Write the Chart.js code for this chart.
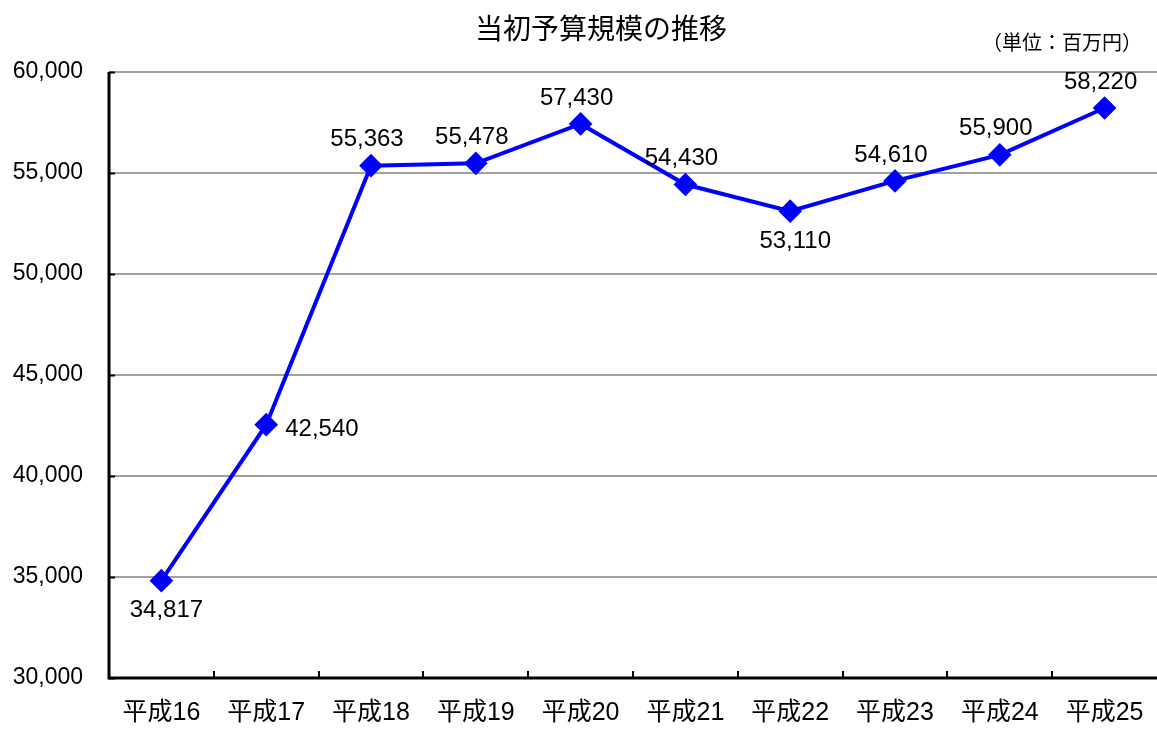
<!DOCTYPE html>
<html>
<head>
<meta charset="utf-8">
<script src="https://cdn.jsdelivr.net/npm/chart.js@4"></script>
<style>
  html, body { margin: 0; padding: 0; background: #fff; overflow: hidden; }
  canvas { display: block; }
</style>
</head>
<body>
<canvas id="chart" width="1157" height="731"></canvas>
<script>
var labels = ['平成16', '平成17', '平成18', '平成19', '平成20', '平成21', '平成22', '平成23', '平成24', '平成25'];
var budget = [34817, 42540, 55363, 55478, 57430, 54430, 53110, 54610, 55900, 58220];
var labelSide = ['below', 'right', 'above', 'above', 'above', 'above', 'below', 'above', 'above', 'above'];

var FONT = '"Liberation Sans", Arial, "Noto Sans CJK JP", sans-serif';
var JP = '"Noto Sans CJK JP", "Liberation Sans", sans-serif';

var extras = {
  id: 'extras',
  afterDraw: function(chart) {
    var c = chart.ctx, a = chart.chartArea;
    var x = chart.scales.x, y = chart.scales.y;
    c.save();
    // inner tick marks
    c.strokeStyle = '#000';
    c.lineWidth = 2;
    y.ticks.forEach(function(t) {
      var py = Math.round(y.getPixelForValue(t.value)) + 0.5;
      c.beginPath(); c.moveTo(a.left, py); c.lineTo(a.left + 6, py); c.stroke();
    });
    for (var i = 1; i < labels.length; i++) {
      var px = Math.round((x.getPixelForValue(i - 1) + x.getPixelForValue(i)) / 2);
      c.beginPath(); c.moveTo(px, a.bottom); c.lineTo(px, a.bottom - 7); c.stroke();
    }
    // axis lines
    c.lineWidth = 3;
    c.beginPath();
    c.moveTo(a.left, a.top);
    c.lineTo(a.left, a.bottom);
    c.lineTo(a.right, a.bottom);
    c.stroke();

    // data labels
    c.fillStyle = '#000';
    c.font = '24px ' + FONT;
    c.textBaseline = 'middle';
    var meta = chart.getDatasetMeta(0);
    meta.data.forEach(function(pt, i) {
      var txt = budget[i].toLocaleString('en-US');
      var side = labelSide[i];
      if (side === 'above') {
        c.textAlign = 'center';
        c.fillText(txt, pt.x - 4, pt.y - 26);
      } else if (side === 'below') {
        c.textAlign = 'center';
        c.fillText(txt, pt.x + 5, pt.y + 30);
      } else {
        c.textAlign = 'left';
        c.fillText(txt, pt.x + 19, pt.y + 5);
      }
    });

    // title and unit
    c.textAlign = 'center';
    c.font = '28px ' + JP;
    c.fillText('当初予算規模の推移', 601, 28);
    c.textAlign = 'right';
    c.font = '20px ' + JP;
    c.fillText('（単位：百万円）', 1142, 42);
    c.restore();
  }
};

var ctx = document.getElementById('chart');
var chart = new Chart(ctx, {
  type: 'line',
  data: {
    labels: labels,
    datasets: [{
      data: budget,
      borderColor: '#0000ff',
      backgroundColor: '#0000ff',
      borderWidth: 4,
      pointStyle: 'rectRot',
      pointRadius: 9,
      pointHoverRadius: 9,
      tension: 0,
      clip: false
    }]
  },
  options: {
    responsive: false,
    animation: false,
    layout: { autoPadding: false, padding: { top: 72, right: 0, left: 0, bottom: 0 } },
    plugins: {
      legend: { display: false },
      tooltip: { enabled: false },
      title: { display: false }
    },
    scales: {
      x: {
        offset: true,
        grid: { display: false, drawTicks: false },
        border: { display: false },
        ticks: {
          color: '#000',
          font: { size: 25, family: FONT },
          padding: 20,
          maxRotation: 0,
          autoSkip: false
        },
        afterFit: function(s) { s.height = 53; s.paddingLeft = 0; s.paddingRight = 0; }
      },
      y: {
        min: 30000,
        max: 60000,
        grid: { color: '#a0a0a0', lineWidth: 2, drawTicks: false },
        border: { display: false },
        ticks: {
          stepSize: 5000,
          color: '#000',
          font: { size: 23, family: FONT },
          padding: 26,
          callback: function(v) { return v.toLocaleString('en-US'); }
        },
        afterFit: function(s) { s.width = 109; s.paddingTop = 0; s.paddingBottom = 0; }
      }
    }
  },
  plugins: [extras]
});
</script>
</body>
</html>
